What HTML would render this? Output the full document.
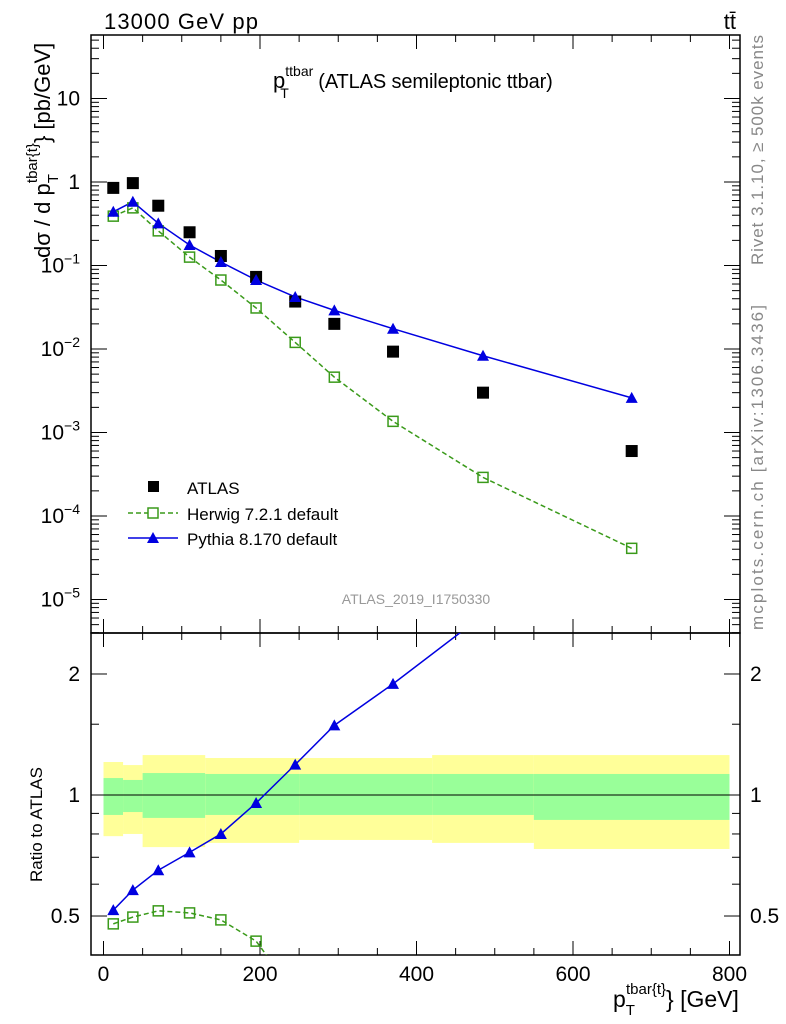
<!DOCTYPE html>
<html><head><meta charset="utf-8"><style>
html,body{margin:0;background:#fff;width:786px;height:1024px;overflow:hidden;position:relative}
svg{display:block;font-family:"Liberation Sans",sans-serif}
</style></head><body>
<svg id="c" width="786" height="1024" viewBox="0 0 786 1024" style="position:absolute;left:0;top:0">
<defs>
<clipPath id="cm"><rect x="91" y="35" width="649" height="598"/></clipPath>
<clipPath id="cr"><rect x="91" y="633" width="649" height="322"/></clipPath>
</defs>
</svg>
<script>
const xs=[12.5,37.5,70,110,150,195,245,295,370,485,675];
const atlas=[0.85,0.97,0.52,0.25,0.13,0.073,0.037,0.02,0.0093,0.003,0.0006];
const pythia=[0.44,0.58,0.32,0.176,0.11,0.067,0.042,0.029,0.0175,0.0083,0.0026];
const herwig=[0.39,0.49,0.26,0.126,0.067,0.031,0.012,0.0046,0.00136,0.00029,0.000041];
const pythiaRatio=[0.517,0.58,0.65,0.72,0.80,0.955,1.19,1.49,1.89,2.8,4.3];
const herwigRatio=[0.478,0.497,0.515,0.509,0.489,0.433,0.32,0.23,0.15,0.1,0.07];
const bandEdges=[0,25,50,130,250,420,550,800];
const yellowHi=[1.208,1.187,1.257,1.236,1.236,1.257,1.257];
const yellowLo=[0.79,0.80,0.742,0.76,0.773,0.76,0.734];
const greenHi=[1.102,1.09,1.134,1.128,1.128,1.128,1.128];
const greenLo=[0.892,0.907,0.877,0.892,0.892,0.892,0.867];
const xTicks=[0,200,400,600,800];
const yExp=[1,0,-1,-2,-3,-4,-5];
const ratioTicks=[0.5,1,2];

const NS="http://www.w3.org/2000/svg";
const svg=document.getElementById('c');
const L=91,R=740,T=35,M=633,B=955;
const X=v=>103.5+v*0.7825;
const Y=v=>182-Math.log10(v)*83.5;
const YR=v=>795-Math.log10(v)*402;
function el(tag,attrs,parent){const e=document.createElementNS(NS,tag);for(const k in attrs)e.setAttribute(k,attrs[k]);(parent||svg).appendChild(e);return e;}
function txt(s,attrs,parent){const e=el('text',attrs,parent);e.textContent=s;return e;}

const gB=el('g',{});


for(let i=0;i<bandEdges.length-1;i++){
  const x1=X(bandEdges[i]),x2=X(bandEdges[i+1]);
  const y=el('rect',{x:x1,y:YR(yellowHi[i]),width:x2-x1,height:YR(yellowLo[i])-YR(yellowHi[i]),fill:'#ffff99'},gB);
  
  
  const g=el('rect',{x:x1,y:YR(greenHi[i]),width:x2-x1,height:YR(greenLo[i])-YR(greenHi[i]),fill:'#99ff99'},gB);
  
  
}
el('line',{x1:L,x2:R,y1:YR(1),y2:YR(1),stroke:'#000','stroke-width':1});

const f1=el('rect',{x:L,y:T,width:R-L,height:M-T,fill:'none',stroke:'#000','stroke-width':1.5});


const f2=el('rect',{x:L,y:M,width:R-L,height:B-M,fill:'none',stroke:'#000','stroke-width':1.5});



for(let v=0;v<=800;v+=50){
  const maj=v%200===0, len=maj?14:7;
  [[T,1],[M,-1],[M,1],[B,-1]].forEach(([y0,d])=>el('line',{x1:X(v),x2:X(v),y1:y0,y2:y0+d*len,stroke:'#000'}));
}
xTicks.forEach(v=>{const t=txt(String(v),{x:X(v),y:981,'font-size':21,'text-anchor':'middle'});

});
for(let e=-6;e<=2;e++)for(let m=1;m<10;m++){
  const v=m*Math.pow(10,e),y=Y(v); if(y<T||y>M)continue;
  const len=m===1?16:8;
  el('line',{x1:L,x2:L+len,y1:y,y2:y,stroke:'#000'});
  el('line',{x1:R,x2:R-len,y1:y,y2:y,stroke:'#000'});
}
yExp.forEach(e=>{
  const y=Y(Math.pow(10,e))+7;
  let t;
  if(e===1)t=txt('10',{x:80,y:y,'font-size':21,'text-anchor':'end'});
  else if(e===0)t=txt('1',{x:80,y:y,'font-size':21,'text-anchor':'end'});
  else{t=el('text',{x:80,y:y,'font-size':21,'text-anchor':'end'});
    t.innerHTML='10<tspan dy="-9" font-size="14">'+(e===-1?'−1':'−'+(-e))+'</tspan>';}
  
  
});
[0.4,0.5,0.6,0.7,0.8,0.9,1,1.5,2].forEach(v=>{
  const y=YR(v),len=(v===0.5||v===1||v===2)?16:8;
  el('line',{x1:L,x2:L+len,y1:y,y2:y,stroke:'#000'});
  el('line',{x1:R,x2:R-len,y1:y,y2:y,stroke:'#000'});
});
ratioTicks.forEach(v=>{
  const s=String(v);
  const a=txt(s,{x:80,y:YR(v)+7,'font-size':21,'text-anchor':'end'});
  
  
  const b=txt(s,{x:750,y:YR(v)+7,'font-size':21});
  
  
});

const gm=el('g',{'clip-path':'url(#cm)'});
function line(vals,yf,color,dash,g,name){
  const p=el('polyline',{points:xs.map((x,i)=>X(x)+','+yf(vals[i])).join(' '),fill:'none',stroke:color,'stroke-width':1.5,'stroke-dasharray':dash||'none'},g);
  
  
}
function sq(x,y,g,name){const r=el('rect',{x:x-5,y:y-5,width:10,height:10,fill:'none',stroke:'#3a9a1a','stroke-width':1.5},g);

}
function tri(x,y,g,name){const p=el('polygon',{points:`${x-6},${y+5} ${x+6},${y+5} ${x},${y-6}`,fill:'#0000e0'},g);

}
line(herwig,Y,'#3a9a1a','5,3',gm,'herwig-line');
line(pythia,Y,'#0000e0',null,gm,'pythia-line');
xs.forEach((x,i)=>{
  const r=el('rect',{x:X(x)-6,y:Y(atlas[i])-6,width:12,height:12,fill:'#000'},gm);
  
  
  sq(X(x),Y(herwig[i]),gm,'herwig-point');
  tri(X(x),Y(pythia[i]),gm,'pythia-point');
});
const gr=el('g',{'clip-path':'url(#cr)'});
line(herwigRatio,YR,'#3a9a1a','5,3',gr,'herwig-ratio-line');
line(pythiaRatio,YR,'#0000e0',null,gr,'pythia-ratio-line');
xs.forEach((x,i)=>{sq(X(x),YR(herwigRatio[i]),gr,'herwig-ratio-point');tri(X(x),YR(pythiaRatio[i]),gr,'pythia-ratio-point');});
</script>
<svg style="position:absolute;left:0;top:0" width="786" height="1024">
<text x="104" y="29" font-size="22" textLength="154">13000 GeV pp</text>
<text x="736" y="29" font-size="22" text-anchor="end">tt̄</text>
<text x="273" y="88" font-size="22">p<tspan dy="-12" font-size="14">ttbar</tspan><tspan dx="-33" dy="22" font-size="14">T</tspan><tspan dx="24" dy="-10" font-size="20" textLength="240"> (ATLAS semileptonic ttbar)</tspan></text>
<text transform="translate(50,258) rotate(-90)" font-size="22">dσ / d p<tspan dy="8" font-size="15">T</tspan><tspan dx="-9" dy="-21" font-size="15">tbar{t}</tspan><tspan dy="13">} [pb/GeV]</tspan></text>
<text transform="translate(42,882) rotate(-90)" font-size="17">Ratio to ATLAS</text>
<text x="613" y="1007" font-size="23">p<tspan dy="8" font-size="15">T</tspan><tspan dx="-9" dy="-21" font-size="15">tbar{t}</tspan><tspan dy="13">} [GeV]</tspan></text>
<text transform="translate(763,265) rotate(-90)" font-size="17" fill="#888" textLength="230">Rivet 3.1.10, ≥ 500k events</text>
<text transform="translate(763,630) rotate(-90)" font-size="17" fill="#888" textLength="325">mcplots.cern.ch [arXiv:1306.3436]</text>
<text x="416" y="604" font-size="14" fill="#999" text-anchor="middle">ATLAS_2019_I1750330</text>
<g>
<rect x="148" y="481" width="11" height="11" fill="#000"/>
<text x="187" y="494" font-size="17">ATLAS</text>
<line x1="128" x2="178" y1="513" y2="513" stroke="#3a9a1a" stroke-width="1.5" stroke-dasharray="5,3"/>
<rect x="148" y="508" width="10" height="10" fill="#fff" stroke="#3a9a1a" stroke-width="1.5"/>
<text x="187" y="520" font-size="17">Herwig 7.2.1 default</text>
<line x1="128" x2="178" y1="538" y2="538" stroke="#0000e0" stroke-width="1.5"/>
<polygon points="147,543 159,543 153,532" fill="#0000e0"/>
<text x="187" y="545" font-size="17">Pythia 8.170 default</text>
</g>
</svg>
</body></html>
